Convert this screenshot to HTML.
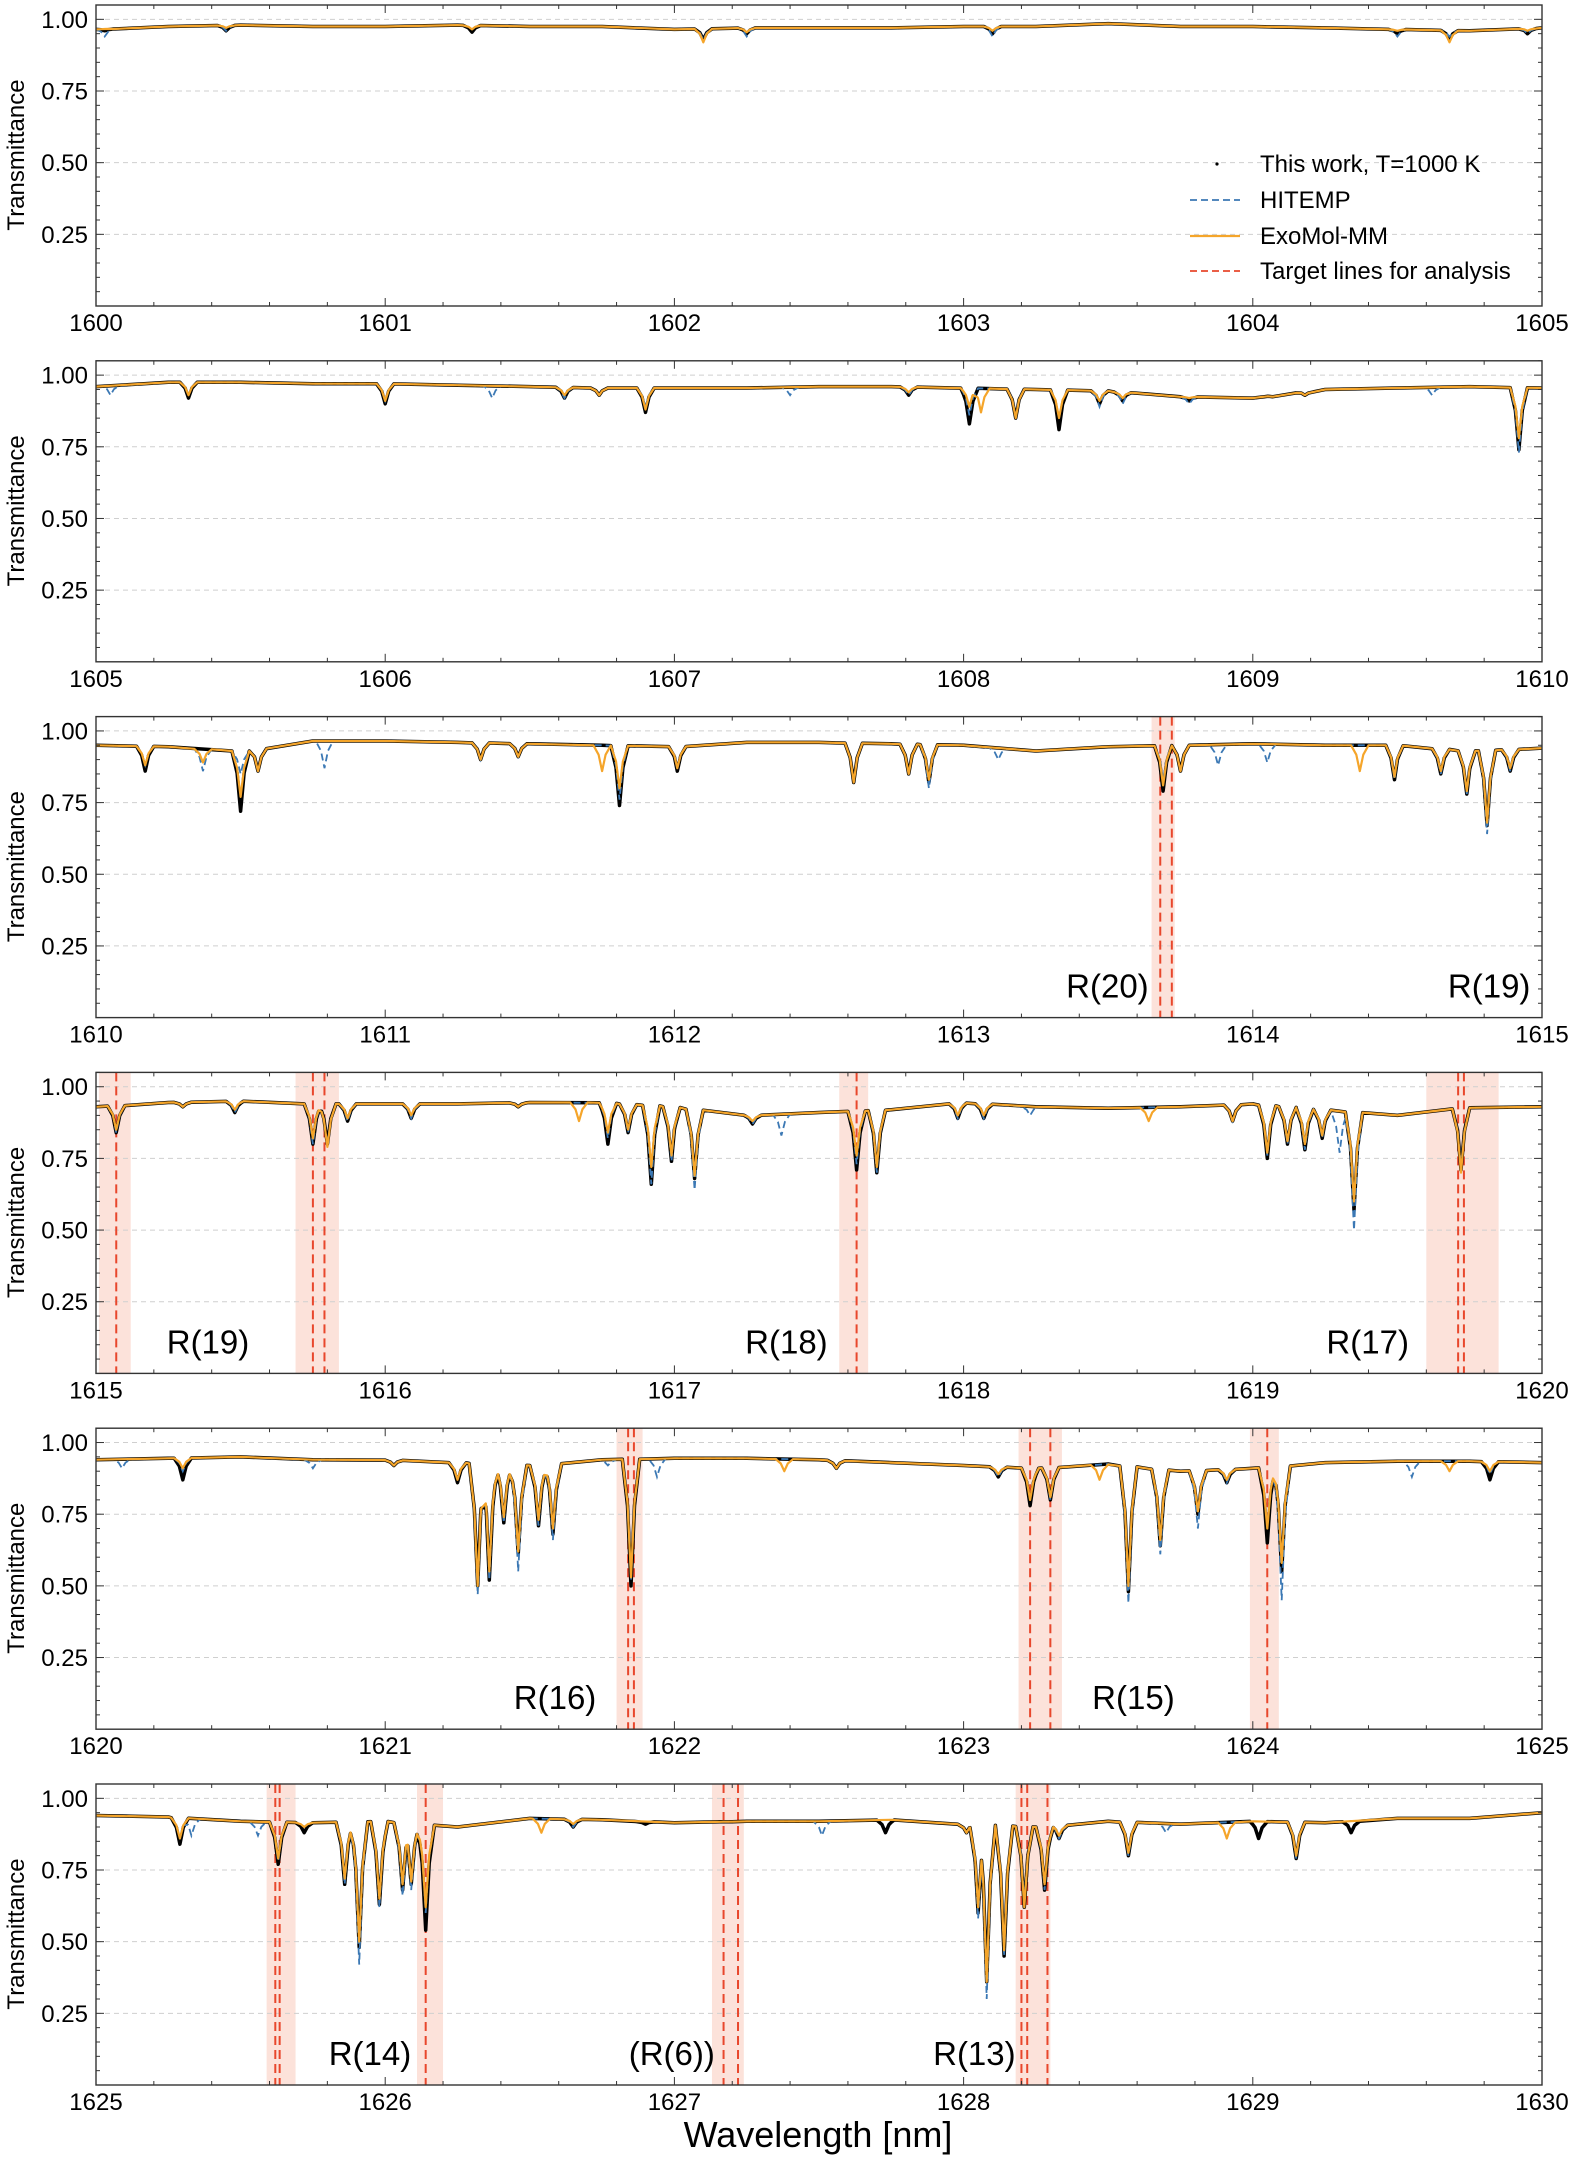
<!DOCTYPE html>
<html><head><meta charset="utf-8"><style>
html,body{margin:0;padding:0;background:#fff;}
svg{display:block;font-family:"Liberation Sans",Arial,sans-serif;}
</style></head><body>
<svg id="chart" width="1577" height="2162" viewBox="0 0 1577 2162" xmlns="http://www.w3.org/2000/svg"></svg>
<script>
// ---- data ----
const panelStarts = [1600, 1605, 1610, 1615, 1620, 1625];
const yTicks = [0.25, 0.5, 0.75, 1.0];
const yTickLabels = ["0.25", "0.50", "0.75", "1.00"];
// baseline transmittance every 0.25 nm (21 values per panel)
const base1 = [0.965,0.975,0.98,0.975,0.975,0.98,0.975,0.975,0.965,0.97,0.97,0.97,0.975,0.975,0.985,0.975,0.975,0.97,0.965,0.96,0.97];
const base2 = [0.96,0.975,0.975,0.97,0.97,0.965,0.96,0.955,0.955,0.955,0.96,0.96,0.955,0.95,0.945,0.925,0.92,0.95,0.955,0.96,0.955];
const base3 = [0.95,0.945,0.93,0.965,0.965,0.96,0.955,0.95,0.945,0.96,0.96,0.955,0.95,0.93,0.945,0.95,0.955,0.95,0.95,0.93,0.94];
const base4 = [0.93,0.945,0.95,0.94,0.94,0.94,0.945,0.945,0.93,0.90,0.91,0.92,0.945,0.93,0.925,0.93,0.94,0.92,0.90,0.93,0.93];
const base5 = [0.94,0.945,0.95,0.94,0.94,0.93,0.92,0.94,0.945,0.945,0.94,0.93,0.92,0.91,0.925,0.90,0.91,0.93,0.935,0.935,0.93];
const base6 = [0.94,0.935,0.92,0.915,0.92,0.90,0.93,0.925,0.915,0.92,0.92,0.925,0.91,0.90,0.92,0.91,0.92,0.915,0.93,0.93,0.95];
// dips: [center nm, this work, HITEMP, ExoMol-MM]
const dips1 = [[1600.03,0.96,0.94,0.97],[1600.45,0.96,0.96,0.97],[1601.3,0.955,0.965,0.965],[1602.1,0.93,0.93,0.92],[1602.25,0.95,0.94,0.955],[1603.1,0.95,0.94,0.96],[1604.5,0.95,0.94,0.96],[1604.68,0.93,0.94,0.92],[1604.95,0.95,0.95,0.96]];
const dips2 = [[1605.05,null,0.93,null],[1605.32,0.92,0.93,0.93],[1606.0,0.90,0.91,0.91],[1606.37,null,0.92,null],[1606.62,0.92,0.92,0.93],[1606.74,0.93,0.93,0.93],[1606.9,0.87,0.89,0.88],[1607.4,null,0.93,null],[1607.81,0.93,0.93,0.94],[1608.02,0.83,0.86,0.89],[1608.06,null,null,0.87],[1608.18,0.85,0.86,0.85],[1608.33,0.81,0.85,0.85],[1608.47,0.90,0.89,0.91],[1608.55,0.91,0.90,0.92],[1608.78,0.91,0.90,0.92],[1609.04,0.94,0.93,0.94],[1609.18,0.93,0.93,0.93],[1609.62,null,0.93,null],[1609.92,0.74,0.73,0.78]];
const dips3 = [[1610.17,0.86,0.88,0.88],[1610.37,null,0.86,0.89],[1610.5,0.72,0.85,0.77],[1610.56,0.86,0.86,0.86],[1610.79,null,0.87,null],[1611.33,0.90,0.90,0.90],[1611.46,0.91,0.91,0.91],[1611.75,null,null,0.86],[1611.81,0.74,0.76,0.80],[1612.01,0.86,0.87,0.87],[1612.62,0.82,0.82,0.82],[1612.81,0.85,0.85,0.85],[1612.88,0.82,0.80,0.83],[1613.12,null,0.90,null],[1613.69,0.79,0.83,0.81],[1613.75,0.86,0.86,0.86],[1613.88,null,0.88,null],[1614.05,null,0.89,null],[1614.37,null,null,0.86],[1614.49,0.83,0.83,0.84],[1614.65,0.85,0.85,0.86],[1614.74,0.78,0.78,0.79],[1614.81,0.67,0.64,0.68],[1614.89,0.86,0.86,0.87]];
const dips4 = [[1615.07,0.84,0.84,0.85],[1615.3,0.93,0.93,0.93],[1615.48,0.91,0.91,0.92],[1615.75,0.80,0.80,0.82],[1615.8,0.80,0.80,0.79],[1615.87,0.88,0.88,0.89],[1616.09,0.89,0.89,0.90],[1616.46,0.93,0.93,0.93],[1616.67,null,null,0.88],[1616.77,0.80,0.82,0.84],[1616.84,0.84,0.84,0.85],[1616.92,0.66,0.66,0.72],[1616.99,0.74,0.74,0.76],[1617.07,0.68,0.64,0.69],[1617.27,0.87,0.87,0.88],[1617.37,null,0.83,null],[1617.63,0.71,0.73,0.76],[1617.7,0.70,0.70,0.72],[1617.98,0.89,0.89,0.90],[1618.07,0.89,0.89,0.90],[1618.23,null,0.90,null],[1618.64,null,null,0.88],[1618.93,0.88,0.88,0.88],[1619.05,0.75,0.76,0.77],[1619.12,0.80,0.80,0.81],[1619.18,0.78,0.78,0.80],[1619.24,0.82,0.82,0.83],[1619.3,null,0.77,null],[1619.35,0.57,0.50,0.60],[1619.72,0.71,0.72,0.70]];
const dips5 = [[1620.09,null,0.91,null],[1620.3,0.87,0.90,0.91],[1620.75,null,0.91,null],[1621.03,0.92,0.92,0.92],[1621.25,0.86,0.87,0.87],[1621.32,0.50,0.47,0.50],[1621.36,0.52,0.52,0.55],[1621.41,0.72,0.72,0.74],[1621.46,0.61,0.55,0.62],[1621.53,0.71,0.71,0.73],[1621.58,0.68,0.66,0.70],[1621.77,null,0.92,null],[1621.85,0.50,0.52,0.53],[1621.94,null,0.88,null],[1622.38,null,null,0.90],[1622.56,0.91,0.91,0.91],[1623.12,0.88,0.88,0.89],[1623.23,0.78,0.80,0.80],[1623.3,0.80,0.80,0.81],[1623.47,null,null,0.87],[1623.57,0.48,0.44,0.50],[1623.68,0.64,0.61,0.66],[1623.81,0.75,0.70,0.76],[1623.91,0.86,0.86,0.87],[1624.05,0.65,0.72,0.70],[1624.1,0.55,0.45,0.58],[1624.55,null,0.88,null],[1624.68,null,null,0.90],[1624.82,0.87,0.89,0.90]];
const dips6 = [[1625.29,0.84,0.86,0.86],[1625.33,null,0.87,null],[1625.56,null,0.87,null],[1625.63,0.77,0.78,0.79],[1625.72,0.88,0.90,0.90],[1625.86,0.70,0.70,0.72],[1625.91,0.48,0.42,0.50],[1625.98,0.63,0.62,0.65],[1626.06,0.68,0.66,0.70],[1626.09,0.70,0.68,0.71],[1626.14,0.54,0.60,0.62],[1626.54,null,null,0.88],[1626.65,0.90,0.90,0.91],[1626.9,0.91,null,null],[1627.17,0.92,0.92,0.92],[1627.51,null,0.87,null],[1627.73,0.88,null,null],[1628.01,0.88,0.88,0.88],[1628.05,0.60,0.58,0.62],[1628.08,0.36,0.30,0.36],[1628.14,0.45,0.45,0.47],[1628.21,0.62,0.65,0.62],[1628.28,0.68,0.68,0.70],[1628.33,0.86,0.86,0.87],[1628.57,0.80,0.80,0.81],[1628.7,null,0.88,null],[1628.91,null,null,0.86],[1629.02,0.86,null,null],[1629.15,0.79,0.79,0.80],[1629.34,0.88,null,null]];
// target lines (nm) and shaded spans [from, to]
const targets3 = [1613.68, 1613.72];
const spans3 = [[1613.65, 1613.73]];
const targets4 = [1615.07, 1615.75, 1615.79, 1617.63, 1619.71, 1619.73];
const spans4 = [[1615.01, 1615.12], [1615.69, 1615.84], [1617.57, 1617.67], [1619.60, 1619.85]];
const targets5 = [1621.84, 1621.86, 1623.23, 1623.3, 1624.05];
const spans5 = [[1621.80, 1621.89], [1623.19, 1623.34], [1623.99, 1624.09]];
const targets6 = [1625.62, 1625.635, 1626.14, 1627.17, 1627.22, 1628.2, 1628.22, 1628.29];
const spans6 = [[1625.59, 1625.69], [1626.11, 1626.20], [1627.13, 1627.24], [1628.18, 1628.30]];
// annotations: [text, right edge nm]
const labels3 = [["R(20)", 1613.64], ["R(19)", 1614.96]];
const labels4 = [["R(19)", 1615.53], ["R(18)", 1617.53], ["R(17)", 1619.54]];
const labels5 = [["R(16)", 1621.73], ["R(15)", 1623.73]];
const labels6 = [["R(14)", 1626.09], ["(R(6))", 1627.14], ["R(13)", 1628.18]];

const bases = [base1, base2, base3, base4, base5, base6];
const dipsAll = [dips1, dips2, dips3, dips4, dips5, dips6];
const targetsAll = [[], [], targets3, targets4, targets5, targets6];
const spansAll = [[], [], spans3, spans4, spans5, spans6];
const labelsAll = [[], [], labels3, labels4, labels5, labels6];

// ---- layout ----
const NS = "http://www.w3.org/2000/svg";
const svg = document.getElementById("chart");
const L = 96, R = 1542, H = 301, Y0 = 5, PITCH = 355.8, YMAX = 1.05, W = 0.03;
function mk(tag, attrs, parent) {
  const e = document.createElementNS(NS, tag);
  for (const k in attrs) e.setAttribute(k, attrs[k]);
  (parent || svg).appendChild(e);
  return e;
}

for (let p = 0; p < 6; p++) {
  const top = Y0 + p * PITCH;
  const x0 = panelStarts[p];
  const sx = v => L + (v - x0) / 5 * (R - L);
  const sy = v => top + (YMAX - v) / YMAX * H;
  const g = mk("g", {});
  
  
  const clipId = "clip" + p;
  const cp = mk("clipPath", {id: clipId}, g);
  mk("rect", {x: L, y: top, width: R - L, height: H}, cp);

  spansAll[p].forEach(s => {
    const r = mk("rect", {x: sx(s[0]), y: top, width: sx(s[1]) - sx(s[0]), height: H, fill: "#fbd5cb", opacity: 0.7}, g);
    
    
  });
  yTicks.forEach(t => {
    const ln = mk("line", {x1: L, x2: R, y1: sy(t), y2: sy(t), stroke: "#cfcfcf", "stroke-width": 1, "stroke-dasharray": "5,4"}, g);
    
    
  });
  targetsAll[p].forEach(t => {
    const ln = mk("line", {x1: sx(t), x2: sx(t), y1: top, y2: top + H, stroke: "#e8472c", "stroke-width": 2, "stroke-dasharray": "9,5"}, g);
    
    
  });

  const base = bases[p];
  const baseAt = x => {
    const f = Math.max(0, Math.min(20, (x - x0) / 0.25));
    const i = Math.min(19, Math.floor(f));
    return base[i] + (base[i + 1] - base[i]) * (f - i);
  };
  function seriesPoints(col) {
    const ds = dipsAll[p].filter(d => d[col] !== null);
    const xs = [];
    for (let i = 0; i <= 20; i++) xs.push(x0 + i * 0.25);
    ds.forEach(d => { xs.push(d[0] - W, d[0] - W * 0.4, d[0], d[0] + W * 0.4, d[0] + W); });
    xs.sort((a, b) => a - b);
    return xs.filter(x => x >= x0 && x <= x0 + 5).map(x => {
      let v = baseAt(x);
      ds.forEach(d => {
        const dd = Math.abs(x - d[0]);
        if (dd < W) {
          const b = baseAt(d[0]);
          const r = dd / W;
          const tv = d[col] + (b - d[col]) * Math.sqrt(r);
          if (tv < v) v = tv;
        }
      });
      return sx(x).toFixed(1) + "," + sy(v).toFixed(1);
    }).join(" ");
  }
  const obs = mk("polyline", {points: seriesPoints(1), fill: "none", stroke: "#000", "stroke-width": 3.5, "stroke-linejoin": "round", "clip-path": "url(#" + clipId + ")"}, g);
  
  
  const hit = mk("polyline", {points: seriesPoints(2), fill: "none", stroke: "#3b78b4", "stroke-width": 1.8, "stroke-dasharray": "7,4", "clip-path": "url(#" + clipId + ")"}, g);
  
  
  const exo = mk("polyline", {points: seriesPoints(3), fill: "none", stroke: "#f5a52a", "stroke-width": 2.2, "stroke-linejoin": "round", "clip-path": "url(#" + clipId + ")"}, g);
  
  

  const fr = mk("rect", {x: L, y: top, width: R - L, height: H, fill: "none", stroke: "#333", "stroke-width": 1.4}, g);
  
  
  for (let i = 0; i <= 25; i++) {
    const xv = x0 + i * 0.2;
    const major = i % 5 === 0;
    const len = major ? 8 : 4;
    mk("line", {x1: sx(xv), x2: sx(xv), y1: top + H, y2: top + H - len, stroke: "#333", "stroke-width": 1}, g);
    mk("line", {x1: sx(xv), x2: sx(xv), y1: top, y2: top + len, stroke: "#333", "stroke-width": 1}, g);
    if (major) {
      const t = mk("text", {x: sx(xv), y: top + H + 25, "text-anchor": "middle", "font-size": 24, fill: "#000"}, g);
      t.textContent = String(x0 + i / 5);
      
      
    }
  }
  for (let i = 1; i <= 21; i++) {
    const yv = i * 0.05;
    const major = i % 5 === 0;
    const len = major ? 8 : 4;
    mk("line", {x1: L, x2: L + len, y1: sy(yv), y2: sy(yv), stroke: "#333", "stroke-width": 1}, g);
    mk("line", {x1: R, x2: R - len, y1: sy(yv), y2: sy(yv), stroke: "#333", "stroke-width": 1}, g);
  }
  yTicks.forEach((t, k) => {
    const tx = mk("text", {x: 88, y: sy(t) + 8.5, "text-anchor": "end", "font-size": 24, fill: "#000"}, g);
    tx.textContent = yTickLabels[k];
    
    
  });
  const yl = mk("text", {x: 0, y: 0, transform: "translate(24," + (top + 150) + ") rotate(-90)", "text-anchor": "middle", "font-size": 24, fill: "#000"}, g);
  yl.textContent = "Transmittance";
  
  

  labelsAll[p].forEach(lb => {
    const t = mk("text", {x: sx(lb[1]), y: top + 281, "text-anchor": "end", "font-size": 33, fill: "#000"}, g);
    t.textContent = lb[0];
    
    
  });
}

const lg = mk("g", {});


const legRows = [164, 200, 236, 271];
mk("circle", {cx: 1217, cy: legRows[0], r: 1.6, fill: "#000"}, lg);
mk("line", {x1: 1190, x2: 1240, y1: legRows[1], y2: legRows[1], stroke: "#3b78b4", "stroke-width": 1.8, "stroke-dasharray": "7,4"}, lg);
mk("line", {x1: 1190, x2: 1240, y1: legRows[2], y2: legRows[2], stroke: "#f5a52a", "stroke-width": 2.2}, lg);
mk("line", {x1: 1190, x2: 1240, y1: legRows[3], y2: legRows[3], stroke: "#e8472c", "stroke-width": 1.8, "stroke-dasharray": "7,4"}, lg);
const legText = ["This work, T=1000 K", "HITEMP", "ExoMol-MM", "Target lines for analysis"];
legText.forEach((s, i) => {
  const t = mk("text", {x: 1260, y: legRows[i] + 8, "font-size": 24, fill: "#000"}, lg);
  t.textContent = s;
  
  
});

const xl = mk("text", {x: 818, y: 2147, "text-anchor": "middle", "font-size": 36, fill: "#000"});
xl.textContent = "Wavelength [nm]";


</script>
</body></html>
